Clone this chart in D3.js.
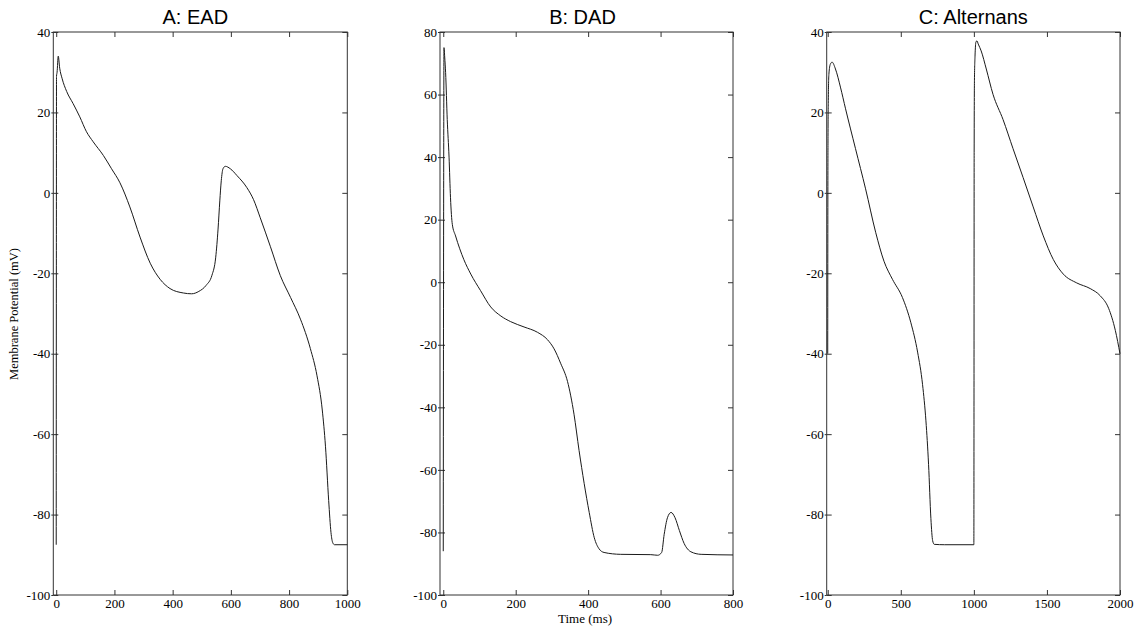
<!DOCTYPE html>
<html>
<head>
<meta charset="utf-8">
<script src="https://cdn.jsdelivr.net/npm/d3@7"></script>
<style>
  body { margin: 0; background: #fff; }
  svg { display: block; }
  .tick text { font-family: "Liberation Serif", "Times New Roman", serif; font-size: 13px; fill: #000; }
  .tick line { stroke: #333; }
  .title { font-family: "Liberation Sans", Arial, sans-serif; font-size: 20px; fill: #000; }
  .axis-label { font-family: "Liberation Serif", "Times New Roman", serif; font-size: 12.5px; fill: #000; }
</style>
</head>
<body>
<div id="chart"></div>
<script>
// ---- DATA (time ms, membrane potential mV) ----
const eadData = [
  [0, -87.5], [0.5, -20], [1, 29], [3, 30], [7, 34], [12, 31], [20, 28.5], [36, 25.2],
  [58, 22.2], [81, 18.9], [104, 15.2], [127, 12.7], [162, 9.3], [190, 6], [219, 2.5],
  [253, -3.5], [288, -11], [323, -17.5], [357, -21.5], [391, -23.8], [437, -24.9],
  [465, -25.1], [490, -24.5], [515, -23], [535, -20.5], [548, -16], [556, -9], [562, -2],
  [567, 3], [573, 6], [581, 6.6], [598, 6], [621, 4.3], [655, 1.3], [678, -1.7],
  [701, -6.2], [736, -13.4], [770, -20.6], [805, -26], [839, -31.4], [873, -38.7],
  [896, -45.5], [914, -54], [925, -63], [936, -76.5], [944, -84.5], [950, -87],
  [956, -87.5], [1000, -87.5]
];

const dadData = [
  [0, -86], [1, 20], [2, 75], [4, 72], [6.5, 67], [11, 52], [16, 40], [20, 27], [25, 18.5],
  [34, 14.8], [57, 7.2], [76, 2.6], [103, -2.7], [131, -7.9], [159, -10.8], [186, -12.6],
  [223, -14.3], [260, -16], [288, -18.4], [306, -21.3], [324, -25.9], [343, -31.7],
  [361, -42.2], [375, -53.8], [389, -64.3], [403, -73.6], [417, -81.7], [430, -85.2],
  [444, -86.4], [490, -87], [573, -87.1], [592, -87.3], [603, -86.4], [610, -80.6],
  [619, -75.3], [629, -73.6], [640, -75.3], [652, -79.4], [665, -83.5], [684, -86.2],
  [712, -87], [800, -87.2]
];

const altData = [
  [0, -40], [1, 0], [2, 14], [4, 23], [8, 29.5], [18, 32], [30, 32.5], [53, 30.8],
  [87, 26.3], [122, 20.9], [190, 11], [259, 1], [328, -9.8], [385, -17], [443, -21.5],
  [511, -26], [569, -32.3], [615, -39.6], [649, -47.7], [672, -56.7], [690, -67.5],
  [706, -81], [718, -86.5], [729, -87.4], [800, -87.5], [1000, -87.5], [1001, -50],
  [1002, 10], [1004, 28], [1008, 34], [1014, 37.5], [1021, 37.8], [1030, 37],
  [1050, 35.3], [1085, 30.8], [1131, 24.5], [1200, 18.2], [1268, 11], [1337, 3.8],
  [1406, -3.5], [1475, -10.7], [1544, -16.6], [1612, -20.2], [1704, -22.4],
  [1796, -23.8], [1865, -25.6], [1922, -28.7], [1968, -34.2], [2000, -40]
];

const titles = ['A: EAD', 'B: DAD', 'C: Alternans'];
const xTicksA = [0, 200, 400, 600, 800, 1000];
const xTicksB = [0, 200, 400, 600, 800];
const xTicksC = [0, 500, 1000, 1500, 2000];
const yTicksA = [-100, -80, -60, -40, -20, 0, 20, 40];
const yTicksB = [-100, -80, -60, -40, -20, 0, 20, 40, 60, 80];
const yTicksC = [-100, -80, -60, -40, -20, 0, 20, 40];

const W = 1136, H = 628;
const plotTop = 32, plotBottom = 595;

// panel boxes
const panels = [
  { data: eadData, title: titles[0], x0: 53.3, x1: 347.3, xDom: [-10, 1000], yDom: [-100, 40], xt: xTicksA, yt: yTicksA, tx: -5 },
  { data: dadData, title: titles[1], x0: 440, x1: 733, xDom: [-9, 800], yDom: [-100, 80], xt: xTicksB, yt: yTicksB, tx: -4 },
  { data: altData, title: titles[2], x0: 826.7, x1: 1120, xDom: [-7, 2000], yDom: [-100, 40], xt: xTicksC, yt: yTicksC, tx: 0 }
];

// plain labels: ASCII hyphen, no thousands separator
const plain = d => String(d);

const svg = d3.select('#chart').append('svg')
  .attr('width', W).attr('height', H);

panels.forEach(p => {
  const w = p.x1 - p.x0, h = plotBottom - plotTop;
  const g = svg.append('g').attr('transform', `translate(${p.x0},${plotTop})`);
  const x = d3.scaleLinear().domain(p.xDom).range([0, w]);
  const y = d3.scaleLinear().domain(p.yDom).range([h, 0]);

  // axes with inward ticks
  g.append('g').attr('transform', `translate(0,${h})`)
    .call(d3.axisBottom(x).tickValues(p.xt).tickFormat(plain).tickSize(-5).tickSizeOuter(0).tickPadding(4))
    .call(a => a.select('.domain').remove());
  g.append('g')
    .call(d3.axisTop(x).tickValues(p.xt).tickSize(-5).tickSizeOuter(0).tickFormat(''))
    .call(a => a.select('.domain').remove());
  g.append('g')
    .call(d3.axisLeft(y).tickValues(p.yt).tickFormat(plain).tickSize(-5).tickSizeOuter(0).tickPadding(3))
    .call(a => a.select('.domain').remove());
  g.append('g').attr('transform', `translate(${w},0)`)
    .call(d3.axisRight(y).tickValues(p.yt).tickSize(-5).tickSizeOuter(0).tickFormat(''))
    .call(a => a.select('.domain').remove());

  // small outward stubs on the left ticks
  g.selectAll('.stub').data(p.yt).enter().append('line')
    .attr('x1', -2).attr('x2', 0)
    .attr('y1', d => y(d) + 0.5).attr('y2', d => y(d) + 0.5)
    .attr('stroke', '#333');

  g.append('rect')
    .attr('x', 0).attr('y', 0).attr('width', w).attr('height', h)
    .attr('fill', 'none').attr('stroke', '#333').attr('stroke-width', 1);

  const line = d3.line()
    .x(d => x(d[0])).y(d => y(d[1]))
    .curve(d3.curveMonotoneX);

  g.append('path').datum(p.data)
    .attr('d', line)
    .attr('fill', 'none')
    .attr('stroke', '#1a1a1a')
    .attr('stroke-width', 1);

  svg.append('text').attr('class', 'title')
    .attr('x', p.x0 + w / 2 + p.tx).attr('y', 24)
    .attr('text-anchor', 'middle')
    .text(p.title);
});

svg.append('text').attr('class', 'axis-label')
  .attr('transform', 'translate(18,314) rotate(-90)')
  .attr('text-anchor', 'middle')
  .text('Membrane Potential (mV)');

svg.append('text').attr('class', 'axis-label')
  .attr('x', 585).attr('y', 623)
  .attr('text-anchor', 'middle')
  .style('font-size', '13px')
  .text('Time (ms)');
</script>
</body>
</html>
